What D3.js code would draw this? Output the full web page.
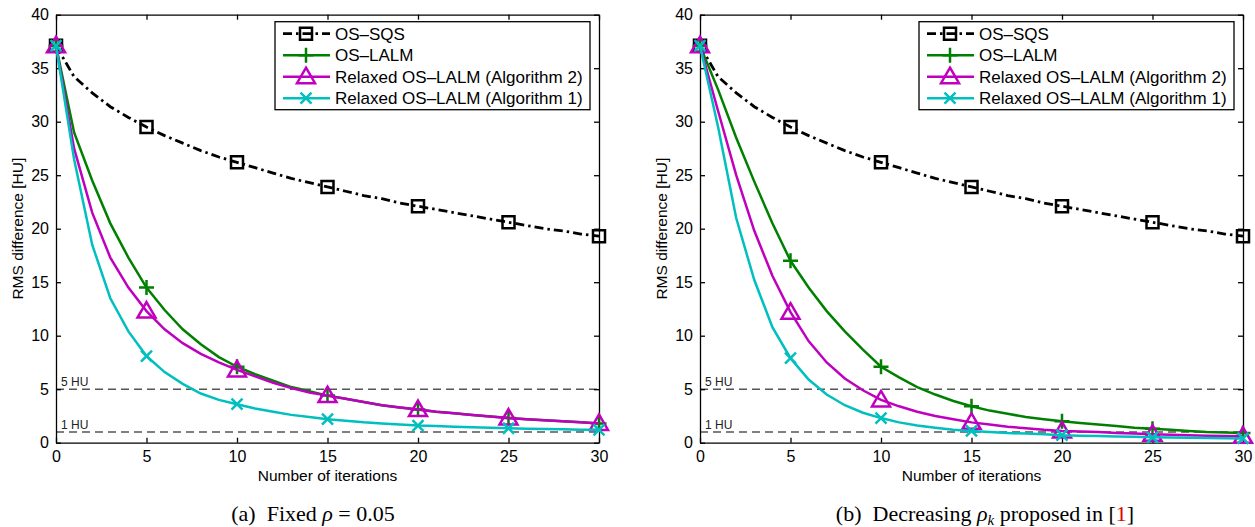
<!DOCTYPE html>
<html>
<head>
<meta charset="utf-8">
<script src="https://cdn.jsdelivr.net/npm/d3@7"></script>
<style>
  body { margin: 0; background: #fff; }
  svg { display: block; }
</style>
</head>
<body>
<div class="chart"></div>
<script>
const W = 1255, H = 527;

// iteration numbers (x)
const iters = [0,1,2,3,4,5,6,7,8,9,10,11,12,13,14,15,16,17,18,19,20,21,22,23,24,25,26,27,28,29,30];

// OS-SQS, same in both panels
const sqs = [37.1,34.2,32.7,31.4,30.4,29.5,28.7,28.0,27.3,26.7,26.2,25.7,25.2,24.7,24.3,23.9,
             23.5,23.1,22.8,22.4,22.1,21.8,21.5,21.2,20.9,20.6,20.3,20.0,19.8,19.5,19.3];

// (a) fixed rho
const lalmA = [37.1,29.0,24.5,20.5,17.3,14.5,12.4,10.6,9.2,8.0,7.1,6.4,5.8,5.2,4.8,4.4,
               4.1,3.8,3.5,3.3,3.1,2.9,2.75,2.6,2.45,2.3,2.2,2.1,2.0,1.9,1.8];
const alg2A = [37.1,27.5,21.5,17.3,14.5,12.3,10.6,9.3,8.3,7.5,6.8,6.2,5.6,5.1,4.7,4.4,
               4.1,3.8,3.5,3.3,3.1,2.9,2.75,2.6,2.45,2.3,2.2,2.1,2.0,1.9,1.8];
const alg1A = [37.1,26.5,18.5,13.5,10.4,8.1,6.6,5.5,4.6,4.0,3.6,3.2,2.9,2.6,2.4,2.2,
               2.05,1.9,1.8,1.7,1.6,1.55,1.5,1.45,1.4,1.35,1.3,1.28,1.25,1.22,1.2];

// (b) decreasing rho_k
const lalmB = [37.1,33.0,28.5,24.4,20.5,17.0,14.5,12.3,10.4,8.7,7.1,6.1,5.2,4.5,3.9,3.4,
               3.0,2.7,2.4,2.2,2.0,1.85,1.7,1.55,1.4,1.3,1.2,1.1,1.0,0.95,0.9];
const alg2B = [37.1,31.0,25.0,19.8,15.6,12.2,9.5,7.5,6.0,4.9,4.0,3.4,2.9,2.5,2.2,1.9,
               1.7,1.5,1.35,1.2,1.1,1.05,1.0,0.9,0.85,0.8,0.75,0.7,0.66,0.63,0.6];
const alg1B = [37.1,29.5,21.0,15.2,10.8,7.9,5.9,4.5,3.5,2.8,2.3,1.9,1.6,1.4,1.2,1.1,
               1.0,0.9,0.85,0.8,0.7,0.65,0.62,0.58,0.55,0.5,0.48,0.46,0.44,0.42,0.4];

const legendNames = ["OS\u2013SQS", "OS\u2013LALM", "Relaxed OS\u2013LALM (Algorithm 2)", "Relaxed OS\u2013LALM (Algorithm 1)"];
const xTicks = [0,5,10,15,20,25,30];
const yTicks = [0,5,10,15,20,25,30,35,40];
const refLines = [5, 1];
const refLabels = ["5 HU", "1 HU"];

const colors = ["#000000", "#008000", "#bf00bf", "#00bfbf"];
const shapes = ["square", "plus", "triangle", "cross"];

const svg = d3.select(".chart").append("svg")
  .attr("width", W).attr("height", H)
  .style("font-family", "'Liberation Sans', Arial, sans-serif");

function marker(g, shape, color, x, y) {
  const s = g.append("path")
    .attr("transform", "translate(" + x + "," + y + ")")
    .attr("fill", "none").attr("stroke", color).attr("stroke-width", 2.5);
  if (shape === "square") s.attr("d", "M-6,-6H6V6H-6Z");
  else if (shape === "plus") s.attr("d", "M-7.5,0H7.5M0,-7.5V7.5");
  else if (shape === "triangle") s.attr("d", "M0,-9L9,6.5H-9Z");
  else s.attr("d", "M-5.5,-5.5L5.5,5.5M-5.5,5.5L5.5,-5.5");
}

function panel(left, right, series, legendX, ylabX, captionX, caption) {
  const top = 14.7, bottom = 442.7;
  const x = d3.scaleLinear().domain([0, 30]).range([left, right]);
  const y = d3.scaleLinear().domain([0, 40]).range([bottom, top]);
  const g = svg.append("g");

  // reference dashed lines
  refLines.forEach(function(v, i) {
    g.append("line")
      .attr("x1", x(0)).attr("x2", x(30))
      .attr("y1", y(v)).attr("y2", y(v))
      .attr("stroke", "#555").attr("stroke-width", 1.4)
      .attr("stroke-dasharray", "8,5");
    g.append("text")
      .attr("x", x(0) + 5).attr("y", y(v) - 3)
      .attr("font-size", 12).attr("fill", "#222")
      .text(refLabels[i]);
  });

  // axes, MATLAB style box with inward ticks
  g.append("g").attr("transform", "translate(0," + bottom + ")")
    .call(d3.axisBottom(x).tickValues(xTicks).tickSizeInner(-5).tickSizeOuter(0).tickPadding(8))
    .call(a => a.selectAll("text").attr("font-size", 16).attr("fill", "#000").attr("font-family", null));
  g.append("g").attr("transform", "translate(" + left + ",0)")
    .call(d3.axisLeft(y).tickValues(yTicks).tickSizeInner(-5).tickSizeOuter(0).tickPadding(7))
    .call(a => a.selectAll("text").attr("font-size", 16).attr("fill", "#000").attr("font-family", null));
  g.append("g").attr("transform", "translate(0," + top + ")")
    .call(d3.axisTop(x).tickValues(xTicks).tickSizeInner(-5).tickSizeOuter(0).tickFormat(""));
  g.append("g").attr("transform", "translate(" + right + ",0)")
    .call(d3.axisRight(y).tickValues(yTicks).tickSizeInner(-5).tickSizeOuter(0).tickFormat(""));
  g.selectAll(".domain, .tick line").attr("stroke", "#000").attr("stroke-width", 1.3);

  // curves
  const line = d3.line().x((d, i) => x(iters[i])).y(d => y(d));
  series.forEach(function(vals, k) {
    g.append("path")
      .attr("d", line(vals))
      .attr("fill", "none")
      .attr("stroke", colors[k])
      .attr("stroke-width", k === 0 ? 2.8 : 2.5)
      .attr("stroke-dasharray", k === 0 ? "9,4,2.5,4" : null);
    vals.forEach(function(v, i) {
      if (iters[i] % 5 === 0) marker(g, shapes[k], colors[k], x(iters[i]), y(v));
    });
  });

  // legend
  const lg = g.append("g").attr("transform", "translate(" + legendX + ",21.7)");
  lg.append("rect").attr("width", 315).attr("height", 88)
    .attr("fill", "#fff").attr("stroke", "#000").attr("stroke-width", 1.3);
  legendNames.forEach(function(name, k) {
    const ly = 12 + k * 21.5;
    lg.append("line").attr("x1", 8).attr("x2", 55).attr("y1", ly).attr("y2", ly)
      .attr("stroke", colors[k]).attr("stroke-width", k === 0 ? 2.8 : 2.5)
      .attr("stroke-dasharray", k === 0 ? "9,4,2.5,4" : null);
    marker(lg, shapes[k], colors[k], 31, ly);
    lg.append("text").attr("x", 60).attr("y", ly + 6)
      .attr("font-size", 17).text(name);
  });

  // axis labels
  g.append("text")
    .attr("x", (left + right) / 2).attr("y", 481)
    .attr("text-anchor", "middle").attr("font-size", 15.5)
    .text("Number of iterations");
  g.append("text")
    .attr("transform", "translate(" + ylabX + "," + ((top + bottom) / 2) + ") rotate(-90)")
    .attr("text-anchor", "middle").attr("font-size", 15.5)
    .text("RMS difference [HU]");

  // caption
  const c = g.append("text")
    .attr("x", captionX).attr("y", 521)
    .attr("text-anchor", "middle")
    .attr("font-family", "'Liberation Serif', 'Times New Roman', serif")
    .attr("font-size", 22);
  caption(c);
}

panel(56, 599, [sqs, lalmA, alg2A, alg1A], 275, 23, 313, function(c) {
  c.append("tspan").text("(a)\u2002Fixed ");
  c.append("tspan").attr("font-style", "italic").text("\u03c1");
  c.append("tspan").text(" = 0.05");
});

panel(700, 1243, [sqs, lalmB, alg2B, alg1B], 919, 667, 985, function(c) {
  c.append("tspan").text("(b)\u2002Decreasing ");
  c.append("tspan").attr("font-style", "italic").text("\u03c1");
  c.append("tspan").attr("font-style", "italic").attr("font-size", 15).attr("dy", 4).text("k");
  c.append("tspan").attr("dy", -4).text(" proposed in [");
  c.append("tspan").attr("fill", "#e00000").text("1");
  c.append("tspan").text("]");
});
</script>
</body>
</html>
